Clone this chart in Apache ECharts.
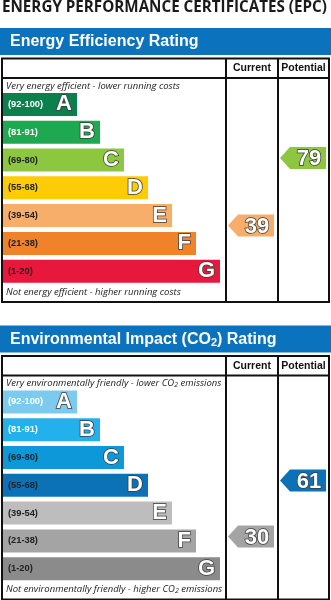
<!DOCTYPE html>
<html><head><meta charset="utf-8">
<script src="https://cdn.jsdelivr.net/npm/echarts@6/dist/echarts.min.js"></script>
<style>html,body{margin:0;padding:0;background:#fff}#c{width:331px;height:600px}</style>
</head><body><div id="c"></div>
<script>
// ---- data ----
const bands = ['A','B','C','D','E','F','G'];
const ranges = ['(92-100)','(81-91)','(69-80)','(55-68)','(39-54)','(21-38)','(1-20)'];
const bandMin = [92, 81, 69, 55, 39, 21, 1];
const barLengths = [74, 97, 121, 145, 169, 193, 217];
const columns = ['Current','Potential'];
const energyColors = ['#0b7f4c','#1ea84f','#8dc63f','#fecc07','#f7ae6a','#f0832a','#e8173c'];
const envColors = ['#7ccaee','#22b1ec','#0c98d9','#0b72b8','#bdbdbd','#a4a4a4','#8b8b8b'];
const rangeTextDark = [false,false,true,true,true,true,true];
const energyRatings = [39, 79];       // Current, Potential
const energySlots = [4.86, 2.43];     // position on band scale (0 = top of A, 7 = bottom of G)
const envRatings = [30, 61];
const envSlots = [5.34, 3.33];

const FONT = '"Liberation Sans", Arial, sans-serif';
function bandOf(v){ for (let i=0;i<bandMin.length;i++){ if (v>=bandMin[i]) return i; } return 6; }

const chart = echarts.init(document.getElementById('c'), null, {renderer:'canvas'});
const P2 = 297.5; // vertical offset of second panel
const bandTop = 90.5, bandH = 194.6;

function barSeries(gi, colors){
  return [{
    type:'bar', xAxisIndex:gi, yAxisIndex:gi, barWidth:23, barGap:'-100%', silent:true,
    data: barLengths.map((v,i)=>({value:v, itemStyle:{color:colors[i]},
      label:{color: rangeTextDark[i] ? '#222' : '#fff'}})),
    label:{show:true, position:'insideLeft', distance:5, fontFamily:FONT, fontSize:9.3, fontWeight:'bold',
      formatter:(p)=>ranges[p.dataIndex]}
  },{
    type:'bar', xAxisIndex:gi, yAxisIndex:gi, barWidth:23, barGap:'-100%', silent:true,
    itemStyle:{color:'transparent'},
    data: barLengths.slice(),
    label:{show:true, position:'insideRight', distance:5, fontFamily:FONT, fontSize:22, fontWeight:'bold',
      color:'#fff', textBorderColor:'#3a3a3a', textBorderWidth:1.5,
      formatter:(p)=>bands[p.dataIndex]}
  }];
}
function arrowSeries(gi, ratings, slots, colors){
  return {
    type:'custom', xAxisIndex:gi, yAxisIndex:gi, silent:true,
    data: ratings.map((r,i)=>[i, slots[i], r, bandOf(r)]),
    renderItem:(params, api)=>{
      const c = api.coord([api.value(0), api.value(1)]);
      const x0=c[0]-24, x1=c[0]+22, y0=c[1]-11, y1=c[1]+11;
      const col = colors[api.value(3)];
      return {type:'group', children:[
        {type:'polygon', shape:{points:[[x0,c[1]],[x0+10,y0],[x1,y0],[x1,y1],[x0+10,y1]]}, style:{fill:col}},
        {type:'text', x:c[0]+5, y:c[1]+1, style:{text:String(api.value(2)), align:'center', verticalAlign:'middle',
          font:'bold 22px '+FONT, fill:'#fff', stroke:'#3a3a3a', lineWidth:1.5}}
      ]};
    }
  };
}

const grids = [
  {left:3, top:bandTop, width:217, height:bandH},
  {left:226, top:bandTop, width:104, height:bandH},
  {left:3, top:bandTop+P2, width:217, height:bandH},
  {left:226, top:bandTop+P2, width:104, height:bandH}
];
const xAxes = [
  {gridIndex:0, type:'value', min:0, max:217, show:false},
  {gridIndex:1, type:'category', data:columns, show:false},
  {gridIndex:2, type:'value', min:0, max:217, show:false},
  {gridIndex:3, type:'category', data:columns, show:false}
];
const yAxes = [
  {gridIndex:0, type:'category', data:bands, inverse:true, show:false},
  {gridIndex:1, type:'value', min:0, max:7, inverse:true, show:false},
  {gridIndex:2, type:'category', data:bands, inverse:true, show:false},
  {gridIndex:3, type:'value', min:0, max:7, inverse:true, show:false}
];

function panelGraphics(off, title, topText, bottomText){
  const L = 2, R = 329, T = 58.5+off, B = 302+off, H = 78+off;
  const line = (x1,y1,x2,y2)=>({type:'line', shape:{x1,y1,x2,y2}, style:{stroke:'#111', lineWidth:2}, silent:true});
  return [
    {type:'rect', shape:{x:0, y:28+off, width:331, height:27}, style:{fill:'#0b73be'}, silent:true},
    {type:'text', x:10, y:42+off, style:{text:title, font:'bold 16px '+FONT, fill:'#fff', verticalAlign:'middle',
      rich:{n:{font:'bold 16px '+FONT, fill:'#fff'}, s:{font:'bold 11px '+FONT, fill:'#fff', padding:[6,0,0,0]}}}},
    {type:'rect', shape:{x:L, y:T, width:R-L, height:B-T}, style:{fill:'none', stroke:'#111', lineWidth:2}, silent:true},
    line(L,H,R,H), line(226,T,226,B), line(278,T,278,B),
    {type:'text', x:252, y:68.5+off, style:{text:'Current', font:'bold 10.5px '+FONT, fill:'#111', align:'center', verticalAlign:'middle'}},
    {type:'text', x:303.5, y:68.5+off, style:{text:'Potential', font:'bold 10.5px '+FONT, fill:'#111', align:'center', verticalAlign:'middle'}},
    {type:'text', x:6, y:86+off, style:{text:topText, font:'italic 9.5px "Open Sans", sans-serif', fill:'#222', verticalAlign:'middle',
      rich:{n:{font:'italic 9.5px "Open Sans", sans-serif', fill:'#222'}, s:{font:'italic 7px "Open Sans", sans-serif', fill:'#222', padding:[3,0,0,0]}}}},
    {type:'text', x:6, y:292+off, style:{text:bottomText, font:'italic 9.5px "Open Sans", sans-serif', fill:'#222', verticalAlign:'middle',
      rich:{n:{font:'italic 9.5px "Open Sans", sans-serif', fill:'#222'}, s:{font:'italic 7px "Open Sans", sans-serif', fill:'#222', padding:[3,0,0,0]}}}}
  ];
}

const graphics = [
  {type:'text', x:2, y:8, style:{text:'ENERGY PERFORMANCE CERTIFICATES (EPC)', font:'bold 15.2px "Open Sans", sans-serif', fill:'#1a1a1a', verticalAlign:'middle'}},
  ...panelGraphics(0, 'Energy Efficiency Rating', 'Very energy efficient - lower running costs', 'Not energy efficient - higher running costs'),
  ...panelGraphics(P2, '{n|Environmental Impact (CO}{s|2}{n|) Rating}', '{n|Very environmentally friendly - lower CO}{s|2}{n| emissions}', '{n|Not environmentally friendly - higher CO}{s|2}{n| emissions}')
];

chart.setOption({
  animation:false,
  grid: grids, xAxis: xAxes, yAxis: yAxes,
  graphic: graphics,
  series: [
    ...barSeries(0, energyColors),
    arrowSeries(1, energyRatings, energySlots, energyColors),
    ...barSeries(2, envColors),
    arrowSeries(3, envRatings, envSlots, envColors)
  ]
});
</script></body></html>
